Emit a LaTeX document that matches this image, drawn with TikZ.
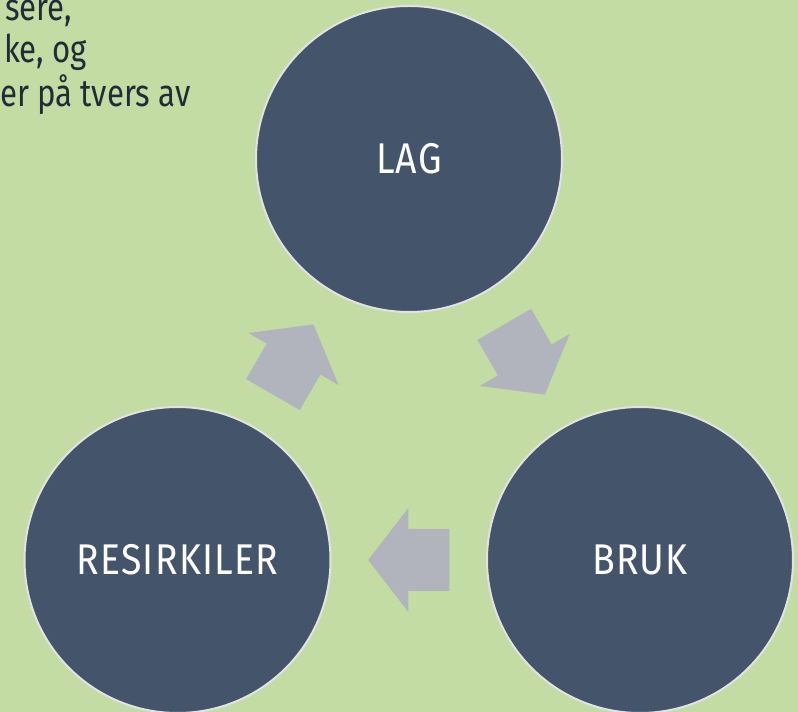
\documentclass[tikz,border=0pt]{standalone}
\usepackage{fontspec}
\setmainfont{Fira Sans}
\newfontfamily\labelfont[FakeStretch=0.87,LetterSpace=3]{Fira Sans}
\newfontfamily\topfont[FakeStretch=0.82]{Fira Sans}
\usetikzlibrary{calc}
\definecolor{bg}{HTML}{C3DCA3}
\definecolor{disc}{HTML}{44546A}
\definecolor{rim}{HTML}{E2E2E2}
\definecolor{arrowgray}{HTML}{B1B4BC}
\definecolor{topink}{HTML}{222B38}
\tikzset{
  stage/.style={circle, fill=disc, draw=rim, line width=2pt, minimum size=306pt, inner sep=0pt,
    text=white, font=\labelfont\fontsize{43}{43}\selectfont},
  toptext/.style={anchor=base west, inner sep=0pt, text=topink, font=\topfont\fontsize{38}{45}\selectfont},
  blockarrow/.style={fill=arrowgray, draw=none}
}
\newcommand{\blockarrowpath}{(40.5,0) -- (0.5,52) -- (0.5,31) -- (-40.5,31) -- (-40.5,-31) -- (0.5,-31) -- (0.5,-52) -- cycle}
\begin{document}
\begin{tikzpicture}[x=1pt,y=1pt]
\useasboundingbox (0,0) rectangle (798,712);
\clip (0,0) rectangle (798,712);
\fill[bg] (0,0) rectangle (798,712);
% top-left text (only the part visible in the frame)
\node[toptext] (t1) at (5,691.5) {sere,};
\node[toptext] (t2) at (4,649) {ke, og};
\node[toptext] (t3) at (0,605) {er på tvers av};
% stages
\node[stage] (lag) at (409,553) {LAG};
\node[stage] (bruk) at (640,152) {BRUK};
\node[stage] (res) at (177.5,152) {RESIRKILER};
% block arrows between stages
\path[blockarrow, shift={($(lag)!0.5!(bruk)$)}, rotate=-60] \blockarrowpath;
\path[blockarrow, shift={($(bruk)!0.5!(res)$)}, rotate=180] \blockarrowpath;
\path[blockarrow, shift={($(res)!0.5!(lag)$)}, rotate=60] \blockarrowpath;
\end{tikzpicture}
\end{document}
